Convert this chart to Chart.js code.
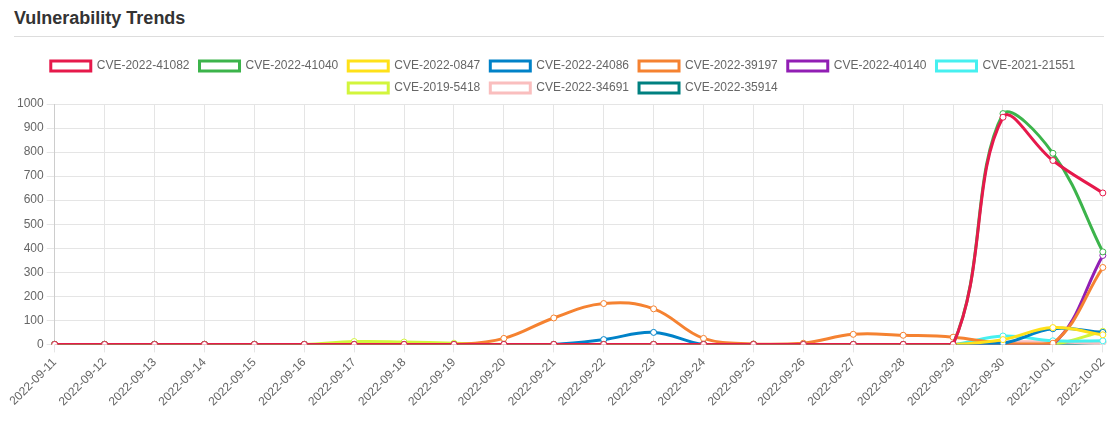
<!DOCTYPE html>
<html><head><meta charset="utf-8">
<script src="https://cdn.jsdelivr.net/npm/chart.js@4"></script>
<style>
body{margin:0;background:#fff;font-family:"Helvetica Neue",Arial,"Liberation Sans",sans-serif;}
h2{margin:0;padding:8px 14px 7px 14px;font-size:18px;font-weight:bold;color:#333;}
hr{margin:0 14px 0 14px;border:0;border-top:1px solid #ddd;}
#wrap{position:absolute;left:6px;top:44px;width:1110px;height:384px;}
</style></head><body>
<h2>Vulnerability Trends</h2><hr>
<div id="wrap"><canvas id="c"></canvas></div>
<script>
const labels=["2022-09-11","2022-09-12","2022-09-13","2022-09-14","2022-09-15","2022-09-16","2022-09-17","2022-09-18","2022-09-19","2022-09-20","2022-09-21","2022-09-22","2022-09-23","2022-09-24","2022-09-25","2022-09-26","2022-09-27","2022-09-28","2022-09-29","2022-09-30","2022-10-01","2022-10-02"];
const names=["CVE-2022-41082","CVE-2022-41040","CVE-2022-0847","CVE-2022-24086","CVE-2022-39197","CVE-2022-40140","CVE-2021-21551","CVE-2019-5418","CVE-2022-34691","CVE-2022-35914"];
const colors=["#e6194b","#3cb44b","#ffe119","#0082c8","#f58231","#911eb4","#46f0f0","#d2f53c","#fabebe","#008080"];
const v41082=[0,0,0,0,0,0,0,0,0,0,0,0,0,0,0,0,0,0,0,945,765,630];
const v41040=[0,0,0,0,0,0,0,0,0,0,0,0,0,0,0,0,0,0,0,960,795,385];
const v0847=[0,0,0,0,0,0,0,0,0,0,0,0,0,0,0,0,0,0,0,20,70,40];
const v24086=[0,0,0,0,0,0,0,0,0,0,0,20,50,0,0,0,0,0,0,5,65,50];
const v39197=[0,0,0,0,0,0,0,0,0,25,110,170,148,25,2,5,42,38,30,5,5,320];
const v40140=[0,0,0,0,0,0,0,0,0,0,0,0,0,0,0,0,0,0,0,0,0,370];
const v21551=[0,0,0,0,0,0,0,0,0,0,0,0,0,0,0,0,0,0,0,35,15,15];
const v5418=[0,0,0,0,0,0,12,10,5,0,0,0,0,0,0,0,0,0,0,0,0,55];
const v34691=[0,0,0,0,0,0,0,0,0,0,0,0,0,0,0,0,0,0,0,10,10,5];
const v35914=[0,0,0,0,0,0,0,0,0,0,0,0,0,0,0,0,0,0,0,0,0,10];
const series=[v41082,v41040,v0847,v24086,v39197,v40140,v21551,v5418,v34691,v35914];
const datasets=names.map((n,i)=>({label:n,data:series[i],borderColor:colors[i],backgroundColor:'#fff',borderWidth:3,tension:0.4,pointRadius:3,pointBorderWidth:1,pointBackgroundColor:'#fff',fill:false,order:i}));
new Chart(document.getElementById('c'),{type:'line',data:{labels,datasets},
options:{responsive:true,maintainAspectRatio:false,animation:false,
layout:{padding:{top:6,right:4,left:8,bottom:16}},
plugins:{legend:{labels:{boxWidth:40,boxHeight:10,color:'#666',font:{size:12}}}},
scales:{y:{min:0,max:1000,ticks:{stepSize:100,color:'#666',font:{size:12},callback:v=>String(v)},grid:{color:'#e5e5e5'}},
x:{ticks:{color:'#666',font:{size:12},maxRotation:45,minRotation:45},grid:{color:'#e5e5e5'}}}}});
</script></body></html>
